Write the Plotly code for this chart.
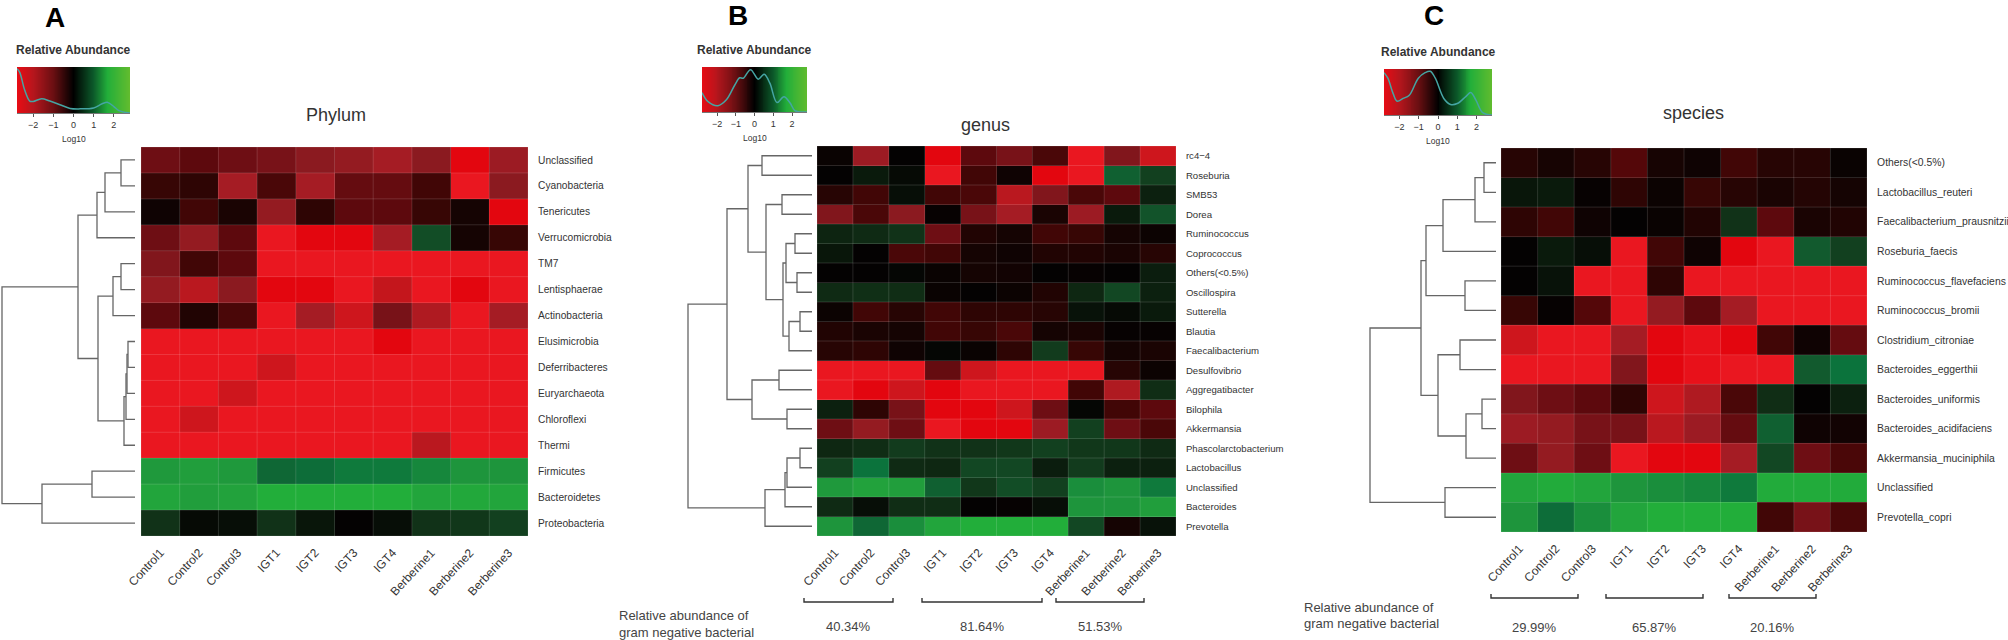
import plotly.graph_objects as go
import numpy as np

W, H = 2008, 640
FONT = "Liberation Sans"

# sample order on the x axis (same for the three heatmaps)
samples = ['Control1', 'Control2', 'Control3', 'IGT1', 'IGT2', 'IGT3', 'IGT4',
           'Berberine1', 'Berberine2', 'Berberine3']

# Phylum
phylum_rows = ['Unclassified', 'Cyanobacteria', 'Tenericutes', 'Verrucomicrobia', 'TM7',
               'Lentisphaerae', 'Actinobacteria', 'Elusimicrobia', 'Deferribacteres',
               'Euryarchaeota', 'Chloroflexi', 'Thermi', 'Firmicutes', 'Bacteroidetes',
               'Proteobacteria']
phylum_vals = [
    [-1.4, -1.2, -1.4, -1.5, -1.7, -1.8, -2.0, -1.7, -3.0, -1.9],
    [-0.8, -0.7, -2.0, -1.0, -2.0, -1.3, -1.3, -0.9, -2.7, -1.7],
    [-0.2, -0.9, -0.4, -1.8, -0.7, -1.2, -1.2, -0.8, -0.3, -3.0],
    [-1.4, -1.8, -1.2, -2.7, -3.0, -3.0, -2.0, 1.2, -0.3, -0.8],
    [-1.6, -0.9, -1.2, -2.7, -2.7, -2.7, -2.7, -2.7, -2.7, -2.7],
    [-1.8, -2.2, -1.7, -3.0, -3.0, -2.7, -2.3, -2.7, -3.0, -2.7],
    [-1.2, -0.5, -1.0, -2.7, -2.0, -2.4, -1.5, -2.1, -2.7, -2.0],
    [-2.7, -2.7, -2.7, -2.7, -2.7, -2.7, -3.0, -2.7, -2.7, -2.7],
    [-2.7, -2.7, -2.7, -2.4, -2.7, -2.7, -2.7, -2.7, -2.7, -2.7],
    [-2.7, -2.7, -2.4, -2.7, -2.7, -2.7, -2.7, -2.7, -2.7, -2.7],
    [-2.7, -2.4, -2.7, -2.7, -2.7, -2.7, -2.7, -2.7, -2.7, -2.7],
    [-2.7, -2.7, -2.7, -2.7, -2.7, -2.7, -2.7, -2.2, -2.7, -2.7],
    [2.4, 2.5, 2.4, 1.6, 1.7, 1.9, 1.9, 2.1, 2.3, 2.3],
    [2.7, 2.5, 2.6, 3.0, 3.0, 3.0, 3.0, 2.7, 2.8, 2.7],
    [0.7, 0.1, 0.15, 0.7, 0.25, 0.0, 0.15, 0.7, 0.8, 1.0],
]
# merges as [height, left, right], a plain int is a row index
phylum_tree = [133,
               [57, [38, [30, [14, 0, 1], 2], 3],
                [37, [22, [14, 4, 5], 6], [11, [9, [8, [7, 7, 8], 9], 10], 11]]],
               [93, [43, 12, 13], 14]]
phylum_density_x = [-2.8, -2.67, -2.42, -2.17, -2, -1.58, -1.17, -0.67, -0.17, 0.33, 1, 1.42, 1.7, 2, 2.25, 2.6, 2.8]
phylum_density_y = [0.96, 0.89, 0.5, 0.26, 0.25, 0.31, 0.26, 0.18, 0.1, 0.09, 0.11, 0.2, 0.23, 0.14, 0.05, 0.01, 0]

# genus
genus_rows = ['rc4\u22124', 'Roseburia', 'SMB53', 'Dorea', 'Ruminococcus', 'Coprococcus',
              'Others(<0.5%)', 'Oscillospira', 'Sutterella', 'Blautia', 'Faecalibacterium',
              'Desulfovibrio', 'Aggregatibacter', 'Bilophila', 'Akkermansia',
              'Phascolarctobacterium', 'Lactobacillus', 'Unclassified', 'Bacteroides',
              'Prevotella']
genus_vals = [
    [-0.1, -1.9, 0.0, -3.0, -1.2, -1.5, -1.0, -2.7, -1.6, -2.4],
    [0.0, 0.3, 0.1, -2.7, -0.9, -0.2, -3.0, -2.7, 1.5, 1.0],
    [-0.6, -0.9, 0.15, -0.9, -1.0, -2.2, -1.6, -1.0, -1.2, 0.4],
    [-1.6, -1.0, -1.7, -0.05, -1.5, -2.0, -0.4, -1.9, 0.3, 1.3],
    [0.45, 0.55, 0.7, -1.4, -0.5, -0.3, -0.9, -0.8, -0.3, -0.15],
    [0.25, 0.0, -1.0, -0.9, -0.3, -0.2, -0.5, -0.5, -0.4, -0.6],
    [0.0, 0.0, 0.05, -0.1, -0.3, -0.25, 0.0, -0.05, 0.0, 0.35],
    [0.55, 0.65, 0.6, -0.1, 0.0, -0.15, -0.5, 0.5, 1.1, 0.4],
    [-0.15, -0.9, -0.6, -0.9, -0.7, -0.7, -0.6, 0.2, 0.1, 0.3],
    [-0.5, -0.4, -0.3, -0.9, -0.8, -1.0, -0.3, -0.4, -0.05, -0.05],
    [-0.6, -0.7, -0.2, 0.05, -0.1, -0.7, 0.9, -0.8, -0.3, -0.4],
    [-2.7, -2.7, -2.7, -1.3, -2.4, -2.7, -2.7, -2.7, -0.6, -0.15],
    [-2.7, -3.0, -2.4, -3.0, -2.7, -2.7, -2.7, -0.9, -2.1, 0.6],
    [0.4, -0.7, -1.5, -3.0, -3.0, -2.4, -1.4, 0.05, -0.9, -1.2],
    [-1.4, -1.8, -1.4, -2.7, -3.0, -3.0, -1.9, 1.0, -1.4, -1.0],
    [0.5, 0.6, 0.9, 0.7, 0.7, 0.8, 1.0, 0.8, 0.8, 0.55],
    [1.0, 1.8, 0.55, 0.5, 1.1, 1.1, 0.35, 0.9, 0.4, 0.4],
    [2.4, 2.6, 2.5, 1.5, 0.8, 1.2, 1.0, 2.2, 2.3, 1.9],
    [0.55, 0.15, 0.6, 0.6, 0.0, -0.03, 0.15, 2.3, 2.3, 2.5],
    [2.3, 1.6, 2.2, 2.7, 3.0, 3.0, 3.0, 1.1, -0.3, 0.2],
]
genus_tree = [124,
              [85, [64, [50, 0, 1],
                    [46, [30, 2, 3], [29, [26, [17, 4, 5], [15, 6, 7]], [23, [12, 8, 9], 10]]]],
               [60, [33, 11, 12], [25, 13, 14]]],
              [47, [27, [25, [12, 15, 16], 17], 18], 19]]
genus_density_x = [-2.8, -2.48, -1.95, -1.5, -1.05, -0.79, -0.6, -0.21, 0.2, 0.52, 0.82, 1.2, 1.57, 1.9, 2.16, 2.8]
genus_density_y = [0.43, 0.23, 0.14, 0.27, 0.6, 0.76, 0.75, 0.94, 0.73, 0.84, 0.64, 0.21, 0.34, 0.2, 0.03, 0]
genus_groups = ['40.34%', '81.64%', '51.53%']

# species
species_rows = ['Others(<0.5%)', 'Lactobacillus_reuteri', 'Faecalibacterium_prausnitzii',
                'Roseburia_faecis', 'Ruminococcus_flavefaciens', 'Ruminococcus_bromii',
                'Clostridium_citroniae', 'Bacteroides_eggerthii', 'Bacteroides_uniformis',
                'Bacteroides_acidifaciens', 'Akkermansia_muciniphila', 'Unclassified',
                'Prevotella_copri']
species_vals = [
    [-0.6, -0.35, -0.6, -1.1, -0.35, -0.2, -0.9, -0.6, -0.6, -0.1],
    [0.25, 0.3, -0.05, -0.7, -0.15, -0.8, -0.6, -0.4, -0.55, -0.3],
    [-0.7, -0.9, -0.2, 0.0, -0.1, -0.5, 0.7, -1.2, -0.4, -0.5],
    [0.0, 0.3, 0.15, -2.7, -0.9, -0.2, -3.0, -2.7, 1.4, 1.0],
    [0.0, 0.2, -2.7, -2.7, -0.7, -2.7, -2.7, -2.7, -2.7, -2.7],
    [-0.8, -0.03, -1.1, -2.7, -1.8, -1.2, -2.0, -2.7, -2.7, -2.7],
    [-2.4, -2.7, -2.7, -2.0, -3.0, -2.8, -3.0, -0.9, -0.2, -1.3],
    [-2.7, -2.7, -2.7, -1.6, -3.0, -2.8, -2.7, -2.7, 1.4, 1.8],
    [-1.6, -1.4, -1.2, -0.7, -2.4, -2.1, -1.0, 0.6, 0.0, 0.4],
    [-1.9, -1.8, -1.5, -1.5, -2.2, -1.9, -1.3, 1.5, -0.2, -0.25],
    [-1.4, -1.8, -1.4, -2.7, -3.0, -3.0, -2.0, 1.1, -1.4, -1.0],
    [2.7, 2.9, 2.7, 2.3, 2.2, 2.1, 1.9, 2.9, 2.9, 2.9],
    [2.3, 1.7, 2.2, 2.7, 3.0, 3.0, 3.0, -0.9, -1.5, -1.0],
]
species_tree = [126,
                [75, [70, [53, [21, [12, 0, 1], 2], 3], [31, 4, 5]],
                 [58, [36, 6, 7], [30, [14, 8, 9], 10]]],
                [51, 11, 12]]
species_density_x = [-2.8, -2.6, -2.33, -2.12, -1.81, -1.49, -1.02, -0.67, -0.4, -0.14, 0.3, 0.65, 1, 1.44, 1.7, 1.96, 2.32, 2.8]
species_density_y = [0.92, 0.8, 0.47, 0.3, 0.36, 0.43, 0.8, 0.92, 0.95, 0.8, 0.36, 0.23, 0.25, 0.4, 0.49, 0.33, 0.05, 0]
species_groups = ['29.99%', '65.87%', '20.16%']

# colours of the cells and of the colour keys
cell_stops = [(-3.0, '#E3060F'), (-2.7, '#EA1720'), (-2.3, '#C4161C'), (-2.0, '#A51C24'),
              (-1.7, '#8B1A20'), (-1.4, '#6E0E14'), (-1.1, '#540709'), (-0.7, '#2E0504'),
              (-0.4, '#1A0403'), (0.0, '#040202'), (0.3, '#0A1A0C'), (0.6, '#102D15'),
              (1.0, '#12401F'), (1.4, '#125A2E'), (1.8, '#0B733C'), (2.3, '#1E953C'),
              (2.6, '#22A23C'), (3.0, '#22AE3A')]
key_stops = [(-2.8, '#E80C14'), (-2.0, '#B5161D'), (-1.0, '#6A0F12'), (0.0, '#000000'),
             (1.0, '#0C5A2A'), (1.7, '#22AE3A'), (2.8, '#62BC2E')]


def px_x(v):
    return v / W


def px_y(v):
    return 1 - v / H


def scale(stops):
    lo, hi = stops[0][0], stops[-1][0]
    return [[(v - lo) / (hi - lo), c] for v, c in stops]


def tree_lines(node, xs, ys):
    # returns (height, row position) of a node and appends its elbow to xs, ys
    if isinstance(node, int):
        return 0, node
    h, left, right = node
    h1, y1 = tree_lines(left, xs, ys)
    h2, y2 = tree_lines(right, xs, ys)
    xs.extend([h1, h, h, h2, None])
    ys.extend([y1, y1, y2, y2, None])
    return h, (y1 + y2) / 2


# positions of the three panels, in pixels of the page
panels = [
    dict(rows=phylum_rows, vals=phylum_vals, tree=phylum_tree, dx=phylum_density_x, dy=phylum_density_y,
         box=(141, 528, 147, 536), tree_box=(0, 135), key=(17, 130, 67, 113), letter=('A', 55, 17),
         title=('Phylum', 336, 115), pad=7, row_size=10.2),
    dict(rows=genus_rows, vals=genus_vals, tree=genus_tree, dx=genus_density_x, dy=genus_density_y,
         box=(817, 1176, 146, 536), tree_box=(686, 812), key=(702, 807, 67, 112), letter=('B', 738, 15),
         title=('genus', 985, 125), pad=7, row_size=9.6, groups=genus_groups,
         spans=[(804, 893), (922, 1042), (1056, 1144)], bracket_y=602, pct_y=626, note=(617, 615, 632)),
    dict(rows=species_rows, vals=species_vals, tree=species_tree, dx=species_density_x, dy=species_density_y,
         box=(1501, 1867, 148, 532), tree_box=(1368, 1496), key=(1384, 1492, 69, 115), letter=('C', 1434, 15),
         title=('species', 1693, 113), pad=7, row_size=10.4, groups=species_groups,
         spans=[(1491, 1578), (1606, 1703), (1729, 1816)], bracket_y=598, pct_y=627, note=(1302, 607, 623)),
]

fig = go.Figure()
layout = {}
annotations = []
shapes = []
key_levels = np.linspace(-2.8, 2.8, 113)

for i, p in enumerate(panels):
    x0, x1, y0, y1 = p['box']
    nrow, ncol = len(p['rows']), len(samples)
    # axis ids: heatmap, dendrogram, colour key
    ids = [3 * i + 1, 3 * i + 2, 3 * i + 3]
    xn = ['x' if k == 1 else f'x{k}' for k in ids]
    yn = ['y' if k == 1 else f'y{k}' for k in ids]
    ya = ['yaxis' if k == 1 else f'yaxis{k}' for k in ids]
    xa = ['xaxis' if k == 1 else f'xaxis{k}' for k in ids]

    fig.add_trace(go.Heatmap(z=p['vals'], x=list(range(ncol)), y=list(range(nrow)), xaxis=xn[0], yaxis=yn[0],
                             colorscale=scale(cell_stops), zmin=-3, zmax=3, showscale=False))
    # thin lighter lines between the cells
    gx, gy = [], []
    for k in range(nrow + 1):
        gx += [-0.5, ncol - 0.5, None]
        gy += [k - 0.5, k - 0.5, None]
    for k in range(ncol + 1):
        gx += [k - 0.5, k - 0.5, None]
        gy += [-0.5, nrow - 0.5, None]
    fig.add_trace(go.Scatter(x=gx, y=gy, mode='lines', xaxis=xn[0], yaxis=yn[0], hoverinfo='skip',
                             line=dict(color='rgba(255,255,255,0.14)', width=1), showlegend=False))
    layout[xa[0]] = dict(domain=[px_x(x0), px_x(x1)], range=[-0.5, ncol - 0.5], anchor=yn[0], automargin=False,
                         tickmode='array', tickvals=list(range(ncol)), ticktext=samples, tickangle=-47,
                         ticks='outside', ticklen=4, tickcolor='rgba(0,0,0,0)', showgrid=False, zeroline=False,
                         tickfont=dict(size=12, color='#333333', family=FONT))
    layout[ya[0]] = dict(domain=[px_y(y1), px_y(y0)], range=[nrow - 0.5, -0.5], anchor=xn[0], side='right', automargin=False,
                         tickmode='array', tickvals=list(range(nrow)), ticktext=p['rows'],
                         ticks='outside', ticklen=p['pad'], tickcolor='rgba(0,0,0,0)', showgrid=False, zeroline=False,
                         tickfont=dict(size=p['row_size'], color='#333333', family=FONT))

    # dendrogram, height 0 sits at the heatmap side
    tx, ty = [], []
    tree_lines(p['tree'], tx, ty)
    t0, t1 = p['tree_box']
    fig.add_trace(go.Scatter(x=tx, y=ty, mode='lines', xaxis=xn[1], yaxis=yn[1], hoverinfo='skip',
                             line=dict(color='#666666', width=1.3), showlegend=False))
    layout[xa[1]] = dict(domain=[px_x(t0), px_x(t1)], range=[t1 - t0, 0], anchor=yn[1], visible=False, automargin=False)
    layout[ya[1]] = dict(domain=[px_y(y1), px_y(y0)], range=[nrow - 0.5, -0.5], anchor=xn[1], visible=False, automargin=False)

    # colour key with the density curve on top
    k0, k1, k2, k3 = p['key']
    fig.add_trace(go.Heatmap(z=[list(key_levels), list(key_levels)], x=key_levels, y=[0, 1], xaxis=xn[2], yaxis=yn[2],
                             colorscale=scale(key_stops), zmin=-2.8, zmax=2.8, showscale=False, hoverinfo='skip'))
    fig.add_trace(go.Scatter(x=p['dx'], y=p['dy'], mode='lines', xaxis=xn[2], yaxis=yn[2], hoverinfo='skip',
                             line=dict(color='#45A5A3', width=1.5, shape='spline'), showlegend=False))
    layout[xa[2]] = dict(domain=[px_x(k0), px_x(k1)], range=[-2.8, 2.8], anchor=yn[2], automargin=False,
                         tickmode='array', tickvals=[-2, -1, 0, 1, 2],
                         ticktext=['\u22122', '\u22121', '0', '1', '2'],
                         ticks='outside', ticklen=3, tickwidth=1, tickcolor='#555555', showgrid=False, zeroline=False,
                         showline=True, linecolor='#777777', linewidth=1,
                         tickfont=dict(size=9, color='#333333', family=FONT))
    layout[ya[2]] = dict(domain=[px_y(k3), px_y(k2)], range=[0, 1], anchor=xn[2], visible=False, automargin=False)

    kc = (k0 + k1) / 2
    annotations.append(dict(text='<b>Relative Abundance</b>', x=px_x(kc), y=px_y(k2 - 17),
                            font=dict(size=12, color='#333333')))
    annotations.append(dict(text='Log10', x=px_x(kc), y=px_y(k3 + 26), font=dict(size=8.5, color='#333333')))
    letter, lx, ly = p['letter']
    annotations.append(dict(text=f'<b>{letter}</b>', x=px_x(lx), y=px_y(ly), font=dict(size=28, color='#000000')))
    title, tx_, ty_ = p['title']
    annotations.append(dict(text=title, x=px_x(tx_), y=px_y(ty_), font=dict(size=18, color='#333333')))

    # brackets with the gram negative percentages
    if 'groups' in p:
        by = p['bracket_y']
        for (s0, s1), pct in zip(p['spans'], p['groups']):
            shapes.append(dict(type='path', xref='paper', yref='paper',
                               path=f'M {px_x(s0)},{px_y(by - 4)} L {px_x(s0)},{px_y(by)} '
                                    f'L {px_x(s1)},{px_y(by)} L {px_x(s1)},{px_y(by - 4)}',
                               line=dict(color='#333333', width=1.4)))
            annotations.append(dict(text=pct, x=px_x((s0 + s1) / 2), y=px_y(p['pct_y']),
                                    font=dict(size=13, color='#444444')))
        nx, n1, n2 = p['note']
        annotations.append(dict(text='Relative abundance of', x=px_x(nx), y=px_y(n1), xanchor='left',
                                font=dict(size=13, color='#444444')))
        annotations.append(dict(text='gram negative bacterial', x=px_x(nx), y=px_y(n2), xanchor='left',
                                font=dict(size=13, color='#444444')))

for a in annotations:
    a.update(xref='paper', yref='paper', showarrow=False)
    a.setdefault('xanchor', 'center')
    a['yanchor'] = 'middle'
    a['font']['family'] = FONT

fig.update_layout(width=W, height=H, margin=dict(l=0, r=0, t=0, b=0), paper_bgcolor='white',
                  plot_bgcolor='white', showlegend=False, annotations=annotations, shapes=shapes,
                  font=dict(family=FONT), **layout)

# the browser's default body margin would push the figure off the page
fig.write_html("out.html", config={'displayModeBar': False}, post_script="document.body.style.margin='0';")
